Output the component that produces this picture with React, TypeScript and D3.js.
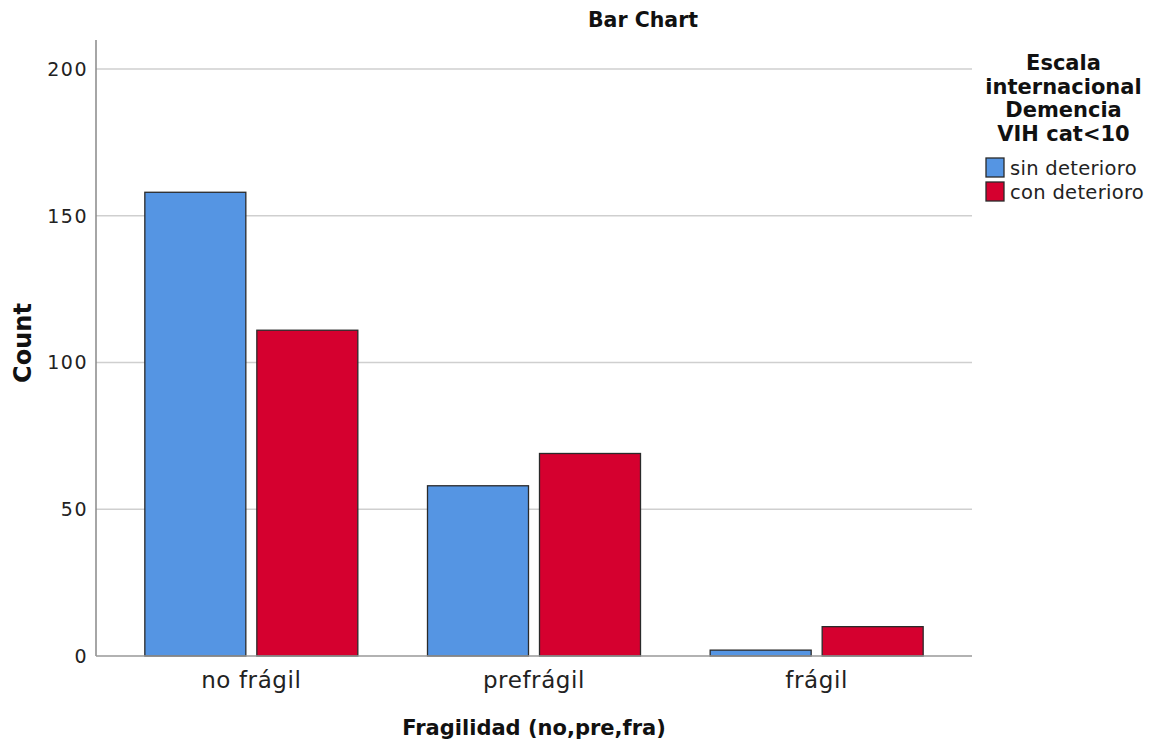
import React from "react";
import * as d3 from "d3";

const categories = ["no frágil", "prefrágil", "frágil"];
const seriesNames = ["sin deterioro", "con deterioro"];
const sinDeterioro = [158, 58, 2];
const conDeterioro = [111, 69, 10];
const yTicks = [0, 50, 100, 150, 200];
const colors = ["#5595E3", "#D5002F"];
const legendTitle = ["Escala", "internacional", "Demencia", "VIH cat<10"];

const W = 1151;
const H = 744;
const FONT = "'DejaVu Sans', Verdana, sans-serif";

export default function App() {
  const axisLeft = 96;
  const axisRight = 972;
  const plotTop = 40;
  const zeroY = 656;

  const y = d3.scaleLinear().domain([0, 200]).range([zeroY, 69]);
  const x = d3.scaleBand().domain(categories).range([110, 958]).paddingInner(0).paddingOuter(0);
  const groupW = 213;
  const inner = d3.scaleBand().domain(seriesNames)
    .range([(x.bandwidth() - groupW) / 2, (x.bandwidth() + groupW) / 2])
    .paddingInner(11 / 112).paddingOuter(0);

  const series = [sinDeterioro, conDeterioro];

  return (
    <svg width={W} height={H} style={{ position: "absolute", left: 0, top: 0, background: "#fff" }}>
      <text x={643} y={27} textAnchor="middle" fontFamily={FONT} fontWeight="bold" fontSize={20.5} fill="#111">Bar Chart</text>
      {yTicks.filter(t => t > 0).map(t => (
        <line key={t} x1={axisLeft} x2={axisRight} y1={y(t)} y2={y(t)} stroke="#cfcfcf" strokeWidth={1.5} />
      ))}
      {yTicks.map(t => (
        <text key={"l" + t} x={88} y={y(t)} dy="0.36em" textAnchor="end" fontFamily={FONT} fontSize={19} letterSpacing={1.5} fill="#222">{t}</text>
      ))}
      {categories.map((c, ci) =>
        seriesNames.map((s, si) => {
          const bx = (x(c) as number) + (inner(s) as number);
          const by = y(series[si][ci]);
          return (
            <rect key={c + s} x={bx} y={by} width={inner.bandwidth()} height={zeroY - by}
              fill={colors[si]} stroke="#2a2a2a" strokeWidth={1.3} />
          );
        })
      )}
      <line x1={axisLeft} x2={axisLeft} y1={plotTop} y2={zeroY} stroke="#888" strokeWidth={1.5} />
      <line x1={axisLeft} x2={axisRight} y1={zeroY} y2={zeroY} stroke="#999" strokeWidth={1.5} />
      {categories.map(c => (
        <text key={"c" + c} x={(x(c) as number) + x.bandwidth() / 2} y={688} textAnchor="middle" fontFamily={FONT} fontSize={23} letterSpacing={0.6} fill="#222">{c}</text>
      ))}
      <text x={534} y={735} textAnchor="middle" fontFamily={FONT} fontWeight="bold" fontSize={21} fill="#111">Fragilidad (no,pre,fra)</text>
      <text transform={`translate(31,343) rotate(-90)`} textAnchor="middle" fontFamily={FONT} fontWeight="bold" fontSize={24} fill="#111">Count</text>
      {legendTitle.map((l, i) => (
        <text key={l} x={1063.5} y={70 + i * 23.5} textAnchor="middle" fontFamily={FONT} fontWeight="bold" fontSize={21} fill="#111">{l}</text>
      ))}
      {seriesNames.map((s, i) => (
        <g key={s} transform={`translate(986,${158 + i * 24})`}>
          <rect x={0} y={0} width={18} height={19} fill={colors[i]} stroke="#2a2a2a" strokeWidth={1.3} />
          <text x={24} y={16.5} fontFamily={FONT} fontSize={19.5} letterSpacing={0.3} fill="#222">{s}</text>
        </g>
      ))}
    </svg>
  );
}
